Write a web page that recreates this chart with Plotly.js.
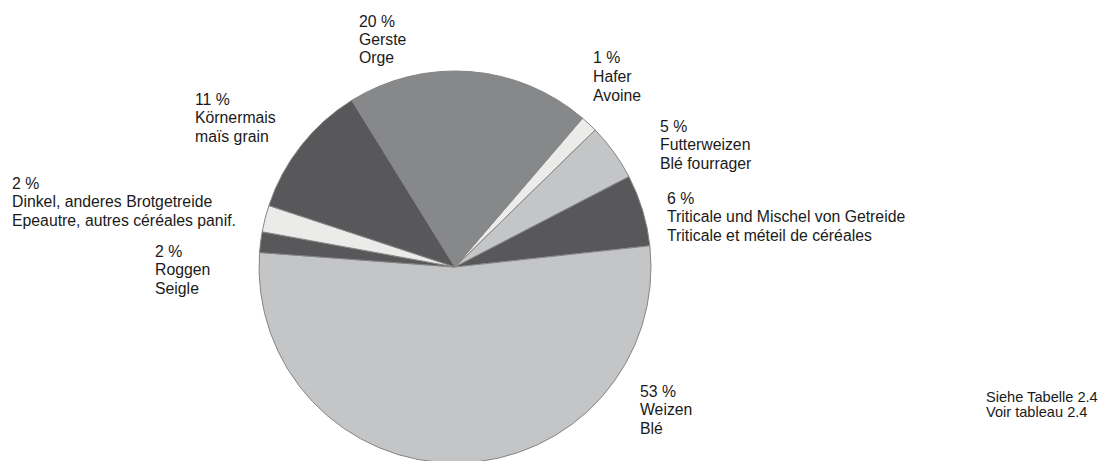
<!DOCTYPE html>
<html>
<head>
<meta charset="utf-8">
<script src="https://cdn.plot.ly/plotly-3.0.1.min.js"></script>
<style>
html,body{margin:0;padding:0;overflow:hidden;background:#fff;}
#chart{width:1109px;height:470px;}
</style>
</head>
<body>
<div id="chart"></div>
<script>
// Data (clockwise from Hafer)
const categoriesDE = ["Hafer", "Futterweizen", "Triticale und Mischel von Getreide", "Weizen", "Roggen", "Dinkel, anderes Brotgetreide", "Körnermais", "Gerste"];
const categoriesFR = ["Avoine", "Blé fourrager", "Triticale et méteil de céréales", "Blé", "Seigle", "Epeautre, autres céréales panif.", "maïs grain", "Orge"];
const shares = [1.4, 4.7, 5.9, 52.9, 1.7, 2.2, 11.1, 20.1];
const shareLabels = ["1 %", "5 %", "6 %", "53 %", "2 %", "2 %", "11 %", "20 %"];
const colors = ["#ebecea", "#c4c5c7", "#58585a", "#c4c5c7", "#58585a", "#ebecea", "#58585a", "#87888a"];
const noteLines = ["Siehe Tabelle 2.4", "Voir tableau 2.4"];

// Label placement (pixels: left x, first-line center y)
const labelPos = [[593, 57], [660, 125], [667, 197], [640, 390], [155, 250], [12, 182], [195, 98], [359, 20]];
const lineGap = 18.5;

const W = 1109, H = 470;
const cx = 455, cy = 267, r = 196;
const FONT = {family: 'Liberation Sans, Arial, sans-serif', size: 15.8, color: '#1a1a1a'};
const NOTE_FONT = {family: 'Liberation Sans, Arial, sans-serif', size: 14.6, color: '#1a1a1a'};

function ann(text, px, py, font) {
  return {
    xref: 'paper', yref: 'paper',
    x: (px - 1) / W, y: 1 - (py + 1) / H,
    xanchor: 'left', yanchor: 'middle', align: 'left',
    showarrow: false, text: text, font: font, borderpad: 0
  };
}

const annotations = [];
shareLabels.forEach((s, i) => {
  const lines = [s, categoriesDE[i], categoriesFR[i]];
  lines.forEach((t, k) => annotations.push(ann(t, labelPos[i][0], labelPos[i][1] + k * lineGap, FONT)));
});
noteLines.forEach((t, j) => annotations.push(ann(t, 986, 396 + j * 15, NOTE_FONT)));

const trace = {
  type: 'pie',
  values: shares,
  labels: categoriesDE,
  sort: false,
  direction: 'clockwise',
  rotation: 40.6,
  textinfo: 'none',
  hoverinfo: 'label+percent',
  marker: {colors: colors, line: {color: '#858585', width: 1}},
  domain: {x: [(cx - r) / W, (cx + r) / W], y: [(H - cy - r) / H, (H - cy + r) / H]},
  showlegend: false
};

Plotly.newPlot('chart', [trace], {
  width: W, height: H,
  margin: {l: 0, r: 0, t: 0, b: 0},
  paper_bgcolor: '#fff',
  showlegend: false,
  annotations: annotations
}, {displayModeBar: false, staticPlot: true});
</script>
</body>
</html>
